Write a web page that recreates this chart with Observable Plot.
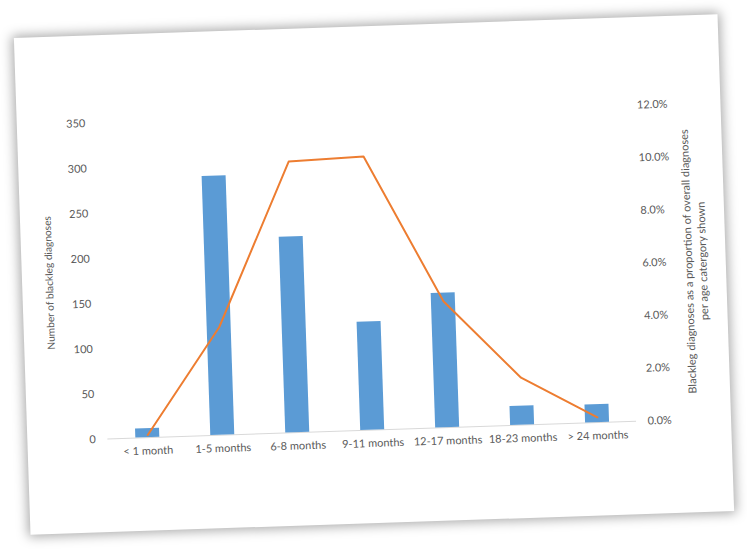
<!DOCTYPE html>
<html>
<head>
<meta charset="utf-8">
<script src="https://cdn.jsdelivr.net/npm/d3@7"></script>
<script src="https://cdn.jsdelivr.net/npm/@observablehq/plot@0.6"></script>
<style>
  html, body { margin: 0; padding: 0; background: #fff; width: 747px; height: 551px; overflow: hidden; }
  #card {
    position: absolute; left: 22px; top: 26px; width: 704px; height: 497px;
    background: #fff;
    transform: rotate(-1.92deg); transform-origin: 50% 50%;
    box-shadow: 0 0 12px 2px rgba(0, 0, 0, 0.35);
  }
  #card svg { display: block; }
</style>
</head>
<body>
<div id="card"></div>
<script>
// Blackleg diagnoses by age group
const categories = ["< 1 month", "1-5 months", "6-8 months", "9-11 months", "12-17 months", "18-23 months", "> 24 months"];
const diagnoses = [10, 287, 217, 120, 149, 21, 20];          // number of diagnoses (bars, left axis)
const proportions = [0.1, 4.1, 10.3, 10.4, 4.8, 1.8, 0.2];   // % of all diagnoses in the age group (line, right axis)
const countTicks = [0, 50, 100, 150, 200, 250, 300, 350];
const percentTicks = [0, 2, 4, 6, 8, 10, 12];

const countMax = 350;
const percentMax = 12;
const toCount = p => p * countMax / percentMax;   // map the right axis onto the left scale

const rows = categories.map((c, i) => ({ category: c, count: diagnoses[i], pct: proportions[i] }));

const chart = Plot.plot({
  width: 704,
  height: 497,
  marginLeft: 80,
  marginRight: 95,
  marginTop: 87.5,
  marginBottom: 93.5,
  style: { fontFamily: "Lato, sans-serif", fontSize: "11px", color: "#595959", background: "transparent" },
  x: { domain: categories, paddingInner: 0.68, paddingOuter: 0.34, label: null },
  y: { domain: [0, countMax], label: null },
  marks: [
    Plot.axisY(countTicks, { anchor: "left", tickSize: 0, tickPadding: 12, label: null }),
    Plot.axisY(percentTicks.map(toCount), {
      anchor: "right", tickSize: 0, tickPadding: 11, label: null,
      tickFormat: v => (v * percentMax / countMax).toFixed(1) + "%"
    }),
    Plot.axisX({ tickSize: 0, tickPadding: 9, label: null }),
    Plot.ruleY([0], { stroke: "#d9d9d9", strokeWidth: 1 }),
    Plot.barY(rows, { x: "category", y: "count", fill: "#5b9bd5" }),
    Plot.lineY(rows, { x: "category", y: d => toCount(d.pct), stroke: "#ed7d31", strokeWidth: 2 }),
    Plot.text(["Number of blackleg diagnoses"], {
      frameAnchor: "left", dx: -53, rotate: -90, textAnchor: "middle", fontSize: 10.2
    }),
    Plot.text(["Blackleg diagnoses as a proportion of overall diagnoses\nper age catergory shown"], {
      frameAnchor: "right", dx: 63.5, rotate: -90, textAnchor: "middle", lineAnchor: "middle", lineHeight: 1.3
    })
  ]
});

document.getElementById("card").appendChild(chart);
</script>
</body>
</html>
